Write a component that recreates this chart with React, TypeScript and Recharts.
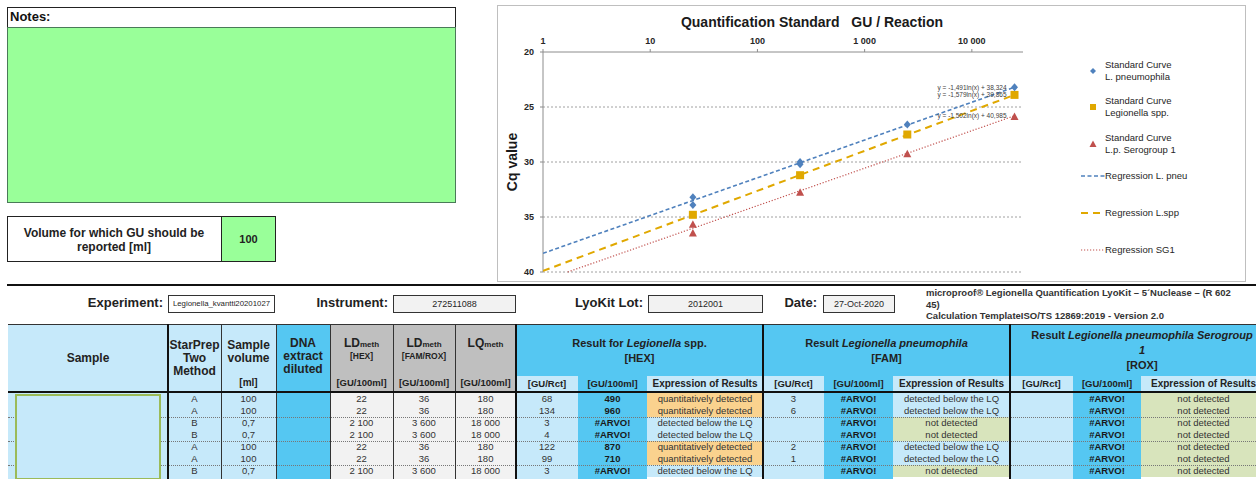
import React from "react";
import { ScatterChart, Scatter, XAxis, YAxis, ReferenceLine, Legend, ReferenceDot } from "recharts";

// chart data (Cq vs GU / reaction)
const guTicks = [1, 10, 100, 1000, 10000];
const cqTicks = [20, 25, 30, 35, 40];

const pneuStd = [
  { gu: 25, cq: 33.2 }, { gu: 25, cq: 33.9 },
  { gu: 250, cq: 30.0 }, { gu: 250, cq: 30.2 },
  { gu: 2500, cq: 26.6 }, { gu: 25000, cq: 23.2 },
];
const sppStd = [
  { gu: 25, cq: 34.8 }, { gu: 250, cq: 31.2 },
  { gu: 2500, cq: 27.5 }, { gu: 25000, cq: 23.9 },
];
const sg1Std = [
  { gu: 25, cq: 35.7 }, { gu: 25, cq: 36.5 },
  { gu: 250, cq: 32.8 }, { gu: 2500, cq: 29.3 }, { gu: 25000, cq: 25.9 },
];
const pneuFit = [{ gu: 1, cq: 38.3 }, { gu: 25000, cq: 23.2 }];
const sppFit = [{ gu: 1, cq: 39.9 }, { gu: 25000, cq: 23.9 }];
const sg1Fit = [{ gu: 1.7, cq: 40 }, { gu: 25000, cq: 25.8 }];
const equations = ["y = -1,491ln(x) + 38,324", "y = -1,579ln(x) + 39,865", "y = -1,502ln(x) + 40,985"];

// table data
const starPrep = ["A", "A", "B", "B", "A", "A", "B"];
const sampleVolume = ["100", "100", "0,7", "0,7", "100", "100", "0,7"];
const dnaDiluted = ["", "", "", "", "", "", ""];
const ldHex = ["22", "22", "2 100", "2 100", "22", "22", "2 100"];
const ldFamRox = ["36", "36", "3 600", "3 600", "36", "36", "3 600"];
const lqMeth = ["180", "180", "18 000", "18 000", "180", "180", "18 000"];
const sppRct = ["68", "134", "3", "4", "122", "99", "3"];
const spp100 = ["490", "960", "#ARVO!", "#ARVO!", "870", "710", "#ARVO!"];
const sppExpr = ["quantitatively detected", "quantitatively detected", "detected below the LQ", "detected below the LQ", "quantitatively detected", "quantitatively detected", "detected below the LQ"];
const pneuRct = ["3", "6", "", "", "2", "1", ""];
const pneu100 = ["#ARVO!", "#ARVO!", "#ARVO!", "#ARVO!", "#ARVO!", "#ARVO!", "#ARVO!"];
const pneuExpr = ["detected below the LQ", "detected below the LQ", "not detected", "not detected", "detected below the LQ", "detected below the LQ", "not detected"];
const sg1Rct = ["", "", "", "", "", "", ""];
const sg1100 = ["#ARVO!", "#ARVO!", "#ARVO!", "#ARVO!", "#ARVO!", "#ARVO!", "#ARVO!"];
const sg1Expr = ["not detected", "not detected", "not detected", "not detected", "not detected", "not detected", "not detected"];

const FONT = "Arial, 'Liberation Sans', sans-serif";
const BLUE = "#4F81BD";
const GOLD = "#E0A800";
const RED = "#C0504D";
const LIGHT = "#C6E9FA";
const BRIGHT = "#55C7F2";
const GRAY_H = "#BFBFBF";
const GRAY_D = "#F2F2F2";
const ORANGE = "#FAD28E";
const GREEN_D = "#D8E4BC";

const fmt = (v: number) => String(v).replace(/\B(?=(\d{3})+(?!\d))/g, " ");

const Diamond = (p: any) => (
  <polygon points={`${p.cx},${p.cy - 4} ${p.cx + 3.5},${p.cy} ${p.cx},${p.cy + 4} ${p.cx - 3.5},${p.cy}`} fill={BLUE} />
);
const Square = (p: any) => <rect x={p.cx - 4} y={p.cy - 4} width={8} height={8} fill={GOLD} />;
const Triangle = (p: any) => (
  <polygon points={`${p.cx},${p.cy - 4.5} ${p.cx + 4},${p.cy + 3} ${p.cx - 4},${p.cy + 3}`} fill={RED} />
);
const NoDot = () => <g />;

const legendRows = [
  { lines: ["Standard Curve", "L. pneumophila"], mark: "diamond", c: 14 },
  { lines: ["Standard Curve", "Legionella spp."], mark: "square", c: 50 },
  { lines: ["Standard Curve", "L.p. Serogroup 1"], mark: "triangle", c: 87 },
  { lines: ["Regression L. pneu"], mark: "pneu", c: 119 },
  { lines: ["Regression L.spp"], mark: "spp", c: 156 },
  { lines: ["Regression SG1"], mark: "sg1", c: 193 },
];

function LegendMark({ mark }: { mark: string }) {
  return (
    <svg width={26} height={10} style={{ position: "absolute", left: 8, top: -5 }}>
      {mark === "diamond" && <polygon points="13,2 16,5 13,8 10,5" fill={BLUE} />}
      {mark === "square" && <rect x={10} y={2} width={6} height={6} fill={GOLD} />}
      {mark === "triangle" && <polygon points="13,1.5 16.5,8 9.5,8" fill={RED} />}
      {mark === "pneu" && <line x1={1} y1={5} x2={25} y2={5} stroke={BLUE} strokeWidth={1.5} strokeDasharray="4 2.5" />}
      {mark === "spp" && <line x1={1} y1={5} x2={25} y2={5} stroke={GOLD} strokeWidth={1.8} strokeDasharray="7 5" />}
      {mark === "sg1" && <line x1={1} y1={5} x2={25} y2={5} stroke={RED} strokeWidth={1.2} strokeDasharray="1.2 1.8" />}
    </svg>
  );
}

function ChartLegend() {
  return (
    <div style={{ position: "relative", width: 150, height: 210, fontFamily: FONT }}>
      {legendRows.map((r) => (
        <div key={r.lines.join()} style={{ position: "absolute", left: 0, top: r.c, width: 150 }}>
          <LegendMark mark={r.mark} />
          <div style={{ position: "absolute", left: 33, top: -r.lines.length * 6, fontSize: 9.5, lineHeight: "12px", color: "#262626", whiteSpace: "nowrap" }}>
            {r.lines.map((l) => <div key={l}>{l}</div>)}
          </div>
        </div>
      ))}
    </div>
  );
}

function QuantChart() {
  const tick = { fontSize: 9, fontWeight: 700, fill: "#262626", fontFamily: FONT };
  return (
    <ScatterChart width={748} height={276} margin={{ top: 0, right: 222, bottom: 9, left: 0 }}>
      <XAxis
        type="number" dataKey="gu" orientation="top" scale="log" domain={[1, 30000]} ticks={guTicks}
        allowDataOverflow height={47} tick={tick} tickFormatter={fmt} tickSize={3} tickMargin={5} stroke="#8c8c8c"
        label={{
          content: (p: any) => (
            <text x={(p.viewBox?.x ?? 46) + (p.viewBox?.width ?? 480) / 2 + 29} y={22} textAnchor="middle"
              fontSize={14} fontWeight={700} fill="#1a1a1a" fontFamily={FONT} style={{ whiteSpace: "pre" }}>
              Quantification Standard   GU / Reaction
            </text>
          ),
        }}
      />
      <YAxis
        type="number" dataKey="cq" reversed domain={[20, 40]} ticks={cqTicks} width={46}
        tick={tick} tickSize={3} tickMargin={6} stroke="#8c8c8c"
        label={{
          content: (p: any) => {
            const cy = (p.viewBox?.y ?? 47) + (p.viewBox?.height ?? 220) / 2;
            return (
              <text x={20} y={cy} transform={`rotate(-90 20 ${cy})`} textAnchor="middle" fontSize={14}
                fontWeight={700} fill="#1a1a1a" fontFamily={FONT}>Cq value</text>
            );
          },
        }}
      />
      {cqTicks.slice(1).map((v) => (
        <ReferenceLine key={v} y={v} stroke="#a0a0a0" strokeDasharray="2 2" />
      ))}
      <Scatter name="Regression SG1" data={sg1Fit} shape={NoDot} isAnimationActive={false}
        line={{ stroke: RED, strokeWidth: 1.2, strokeDasharray: "1.2 1.8" }} />
      <Scatter name="Regression L.spp" data={sppFit} shape={NoDot} isAnimationActive={false}
        line={{ stroke: GOLD, strokeWidth: 2, strokeDasharray: "7 5" }} />
      <Scatter name="Regression L. pneu" data={pneuFit} shape={NoDot} isAnimationActive={false}
        line={{ stroke: BLUE, strokeWidth: 1.6, strokeDasharray: "4 2.5" }} />
      <Scatter name="Standard Curve L.p. Serogroup 1" data={sg1Std} shape={Triangle} isAnimationActive={false} />
      <Scatter name="Standard Curve Legionella spp." data={sppStd} shape={Square} isAnimationActive={false} />
      <Scatter name="Standard Curve L. pneumophila" data={pneuStd} shape={Diamond} isAnimationActive={false} />
      {[pneuFit, sppFit, sg1Fit].map((fit, i) => (
        <ReferenceDot key={equations[i]} x={fit[fit.length - 1].gu} y={fit[fit.length - 1].cq}
          r={0} fill="none" stroke="none"
          label={{ value: equations[i], position: "left", offset: 8, fontSize: 6.5, fill: "#404040", fontFamily: FONT }} />
      ))}
      <Legend layout="vertical" align="center" verticalAlign="middle" content={() => <ChartLegend />}
        wrapperStyle={{ left: 575, top: 52, width: 150, height: 210 }} />
    </ScatterChart>
  );
}

function Box({ x, y, w, h, bg, style, children }: any) {
  return (
    <div style={{ position: "absolute", left: x, top: y, width: w, height: h, background: bg, boxSizing: "border-box", ...style }}>
      {children}
    </div>
  );
}

function Txt({ x, y, w, size = 9.5, bold = false, align = "center", color = "#262626", children }: any) {
  return (
    <div style={{ position: "absolute", left: x, top: y - 8, width: w, height: 16, lineHeight: "16px", fontSize: size,
      fontWeight: bold ? 700 : 400, textAlign: align, color, whiteSpace: "nowrap" }}>
      {children}
    </div>
  );
}

const exprBg = (v: string) => (v.startsWith("quant") ? ORANGE : v.startsWith("not") ? GREEN_D : LIGHT);

const dataCols = [
  { x: 168, w: 53, vals: starPrep, bg: LIGHT },
  { x: 221, w: 55, vals: sampleVolume, bg: LIGHT },
  { x: 276, w: 54, vals: dnaDiluted, bg: BRIGHT },
  { x: 330, w: 63, vals: ldHex, bg: GRAY_D },
  { x: 393, w: 62, vals: ldFamRox, bg: GRAY_D },
  { x: 455, w: 61, vals: lqMeth, bg: GRAY_D },
  { x: 516, w: 62, vals: sppRct, bg: LIGHT },
  { x: 578, w: 69, vals: spp100, bg: BRIGHT, bold: true },
  { x: 647, w: 116, vals: sppExpr, expr: true },
  { x: 763, w: 61, vals: pneuRct, bg: LIGHT },
  { x: 824, w: 69, vals: pneu100, bg: BRIGHT, bold: true },
  { x: 893, w: 117, vals: pneuExpr, expr: true },
  { x: 1010, w: 63, vals: sg1Rct, bg: LIGHT },
  { x: 1073, w: 68, vals: sg1100, bg: BRIGHT, bold: true },
  { x: 1141, w: 125, vals: sg1Expr, expr: true },
];

const ROW0 = 393;
const ROWH = 12;

function Sheet() {
  const vline = (x: number, y: number, h: number, w = 1, c = "#333") => <Box key={`v${x}-${y}`} x={x - w / 2} y={y} w={w} h={h} bg={c} />;
  const subHead = [516, 763, 1010];
  return (
    <>
      {/* notes */}
      <Box x={7} y={7} w={449} h={21} bg="#fff" style={{ border: "1.5px solid #222" }} />
      <Txt x={10} y={17} w={100} size={13} bold align="left" color="#111">Notes:</Txt>
      <Box x={7} y={27} w={449} h={176} bg="#99FF99" style={{ border: "1px solid #4a7a58" }} />
      {/* volume */}
      <Box x={7} y={216} w={269} h={46} bg="#fff" style={{ border: "1.5px solid #222" }} />
      <Box x={221} y={216} w={55} h={46} bg="#99FF99" style={{ border: "1.5px solid #222" }} />
      <Txt x={7} y={233} w={214} size={12} bold color="#222">Volume for which GU should be</Txt>
      <Txt x={7} y={247} w={214} size={12} bold color="#222">reported [ml]</Txt>
      <Txt x={221} y={239} w={55} size={11} bold color="#222">100</Txt>
      <Box x={7} y={284} w={1260} h={2} bg="#111" />

      {/* info row */}
      <Txt x={0} y={303} w={163} size={13} bold align="right" color="#222">Experiment:</Txt>
      <Box x={168} y={295} w={107} h={18} bg="#fff" style={{ border: "1px solid #333" }} />
      <Txt x={168} y={304} w={107} size={7.8}>Legionella_kvantti20201027</Txt>
      <Txt x={250} y={303} w={138} size={13} bold align="right" color="#222">Instrument:</Txt>
      <Box x={393} y={295} w={123} h={18} bg={GRAY_D} style={{ border: "1px solid #333" }} />
      <Txt x={393} y={304} w={123} size={9}>272511088</Txt>
      <Txt x={520} y={303} w={123} size={13} bold align="right" color="#222">LyoKit Lot:</Txt>
      <Box x={648} y={295} w={115} h={18} bg={GRAY_D} style={{ border: "1px solid #333" }} />
      <Txt x={648} y={304} w={115} size={9}>2012001</Txt>
      <Txt x={760} y={303} w={57} size={13} bold align="right" color="#222">Date:</Txt>
      <Box x={823} y={295} w={72} h={18} bg={GRAY_D} style={{ border: "1px solid #333" }} />
      <Txt x={823} y={304} w={72} size={9}>27-Oct-2020</Txt>
      <div style={{ position: "absolute", left: 926, top: 287, width: 330, fontSize: 9.5, lineHeight: "11.5px", fontWeight: 700, color: "#333", whiteSpace: "nowrap" }}>
        microproof® Legionella Quantification LyoKit – 5´Nuclease – (R 602<br />45)<br />Calculation TemplateISO/TS 12869:2019 - Version 2.0
      </div>

      {/* header */}
      <Box x={8} y={324} w={160} h={68} bg={LIGHT} />
      <Txt x={8} y={358} w={160} size={12} bold color="#222">Sample</Txt>
      <Box x={168} y={324} w={108} h={68} bg={LIGHT} />
      <Txt x={168} y={345} w={53} size={12} bold color="#222">StarPrep</Txt>
      <Txt x={168} y={358} w={53} size={12} bold color="#222">Two</Txt>
      <Txt x={168} y={371} w={53} size={12} bold color="#222">Method</Txt>
      <Txt x={221} y={345} w={55} size={12} bold color="#222">Sample</Txt>
      <Txt x={221} y={358} w={55} size={12} bold color="#222">volume</Txt>
      <Txt x={221} y={383} w={55} size={10} bold color="#222">[ml]</Txt>
      <Box x={276} y={324} w={54} h={68} bg={BRIGHT} />
      <Txt x={276} y={343} w={54} size={12} bold color="#222">DNA</Txt>
      <Txt x={276} y={356} w={54} size={12} bold color="#222">extract</Txt>
      <Txt x={276} y={369} w={54} size={12} bold color="#222">diluted</Txt>
      <Box x={330} y={324} w={186} h={68} bg={GRAY_H} />
      {[
        { x: 330, w: 63, main: "LD", sub: "[HEX]" },
        { x: 393, w: 62, main: "LD", sub: "[FAM/ROX]" },
        { x: 455, w: 61, main: "LQ", sub: "" },
      ].map((c) => (
        <React.Fragment key={c.x}>
          <Txt x={c.x} y={343} w={c.w} size={12} bold color="#222">{c.main}<span style={{ fontSize: 8 }}>meth</span></Txt>
          <Txt x={c.x} y={356} w={c.w} size={8.5} bold color="#222">{c.sub}</Txt>
          <Txt x={c.x} y={383} w={c.w} size={9.5} bold color="#222">[GU/100ml]</Txt>
        </React.Fragment>
      ))}
      <Box x={516} y={324} w={750} h={52} bg={BRIGHT} />
      <Txt x={516} y={343} w={247} size={11} bold color="#222">Result for <i>Legionella</i> spp.</Txt>
      <Txt x={516} y={358} w={247} size={11} bold color="#222">[HEX]</Txt>
      <Txt x={763} y={343} w={247} size={11} bold color="#222">Result <i>Legionella pneumophila</i></Txt>
      <Txt x={763} y={358} w={247} size={11} bold color="#222">[FAM]</Txt>
      <Txt x={1010} y={335} w={264} size={11} bold color="#222">Result <i>Legionella pneumophila Serogroup</i></Txt>
      <Txt x={1010} y={350} w={264} size={11} bold color="#222"><i>1</i></Txt>
      <Txt x={1010} y={365} w={264} size={11} bold color="#222">[ROX]</Txt>
      {subHead.map((x0, gi) => {
        const cols = dataCols.slice(6 + gi * 3, 9 + gi * 3);
        return cols.map((c, k) => (
          <React.Fragment key={`sh${c.x}`}>
            <Box x={c.x} y={376} w={c.w} h={16} bg={k === 1 ? BRIGHT : LIGHT} />
            <Txt x={c.x} y={384} w={c.w} size={k === 2 ? 10 : 9.5} bold color="#222">
              {k === 0 ? "[GU/Rct]" : k === 1 ? "[GU/100ml]" : "Expression of Results"}
            </Txt>
          </React.Fragment>
        ));
      })}

      {/* data */}
      <Box x={8} y={392} w={160} h={90} bg={LIGHT} />
      {dataCols.map((c) => (
        <React.Fragment key={`d${c.x}`}>
          {!c.expr && <Box x={c.x} y={392} w={c.w} h={90} bg={c.bg} />}
          {c.vals.map((v, i) => (
            <React.Fragment key={i}>
              {c.expr && <Box x={c.x} y={ROW0 + i * ROWH} w={c.w} h={ROWH} bg={exprBg(v)} />}
              <Txt x={c.x} y={ROW0 + i * ROWH + 6} w={c.w} size={9.5} bold={!!c.bold} color={c.bold ? "#1a1a1a" : "#333"}>{v}</Txt>
            </React.Fragment>
          ))}
        </React.Fragment>
      ))}
      {[2, 4, 6].map((r) => (
        <Box key={`h${r}`} x={8} y={ROW0 + r * ROWH} w={1260} h={0} style={{ borderTop: "1px dotted #777" }} />
      ))}
      <Box x={15} y={394} w={146} h={86} bg={LIGHT} style={{ border: "2px solid #9BBB59" }} />

      {/* grid lines */}
      <Box x={8} y={323.5} w={1260} h={1} bg="#333" />
      {[221, 276, 330, 393, 455].map((x) => vline(x, 324, 156))}
      {[168, 516, 763, 1010].map((x) => vline(x, 324, 156, 2, "#111"))}
      <Box x={8} y={391} w={1260} h={2} bg="#111" />
    </>
  );
}

export default function App() {
  return (
    <div style={{ position: "absolute", left: 0, top: 0, width: 1256, height: 479, overflow: "hidden", background: "#fff", fontFamily: FONT }}>
      <Sheet />
      <Box x={497} y={5} w={749} h={277} bg="#fff" style={{ border: "1px solid #bfbfbf" }} />
      <div style={{ position: "absolute", left: 497, top: 5 }}>
        <QuantChart />
      </div>
    </div>
  );
}
